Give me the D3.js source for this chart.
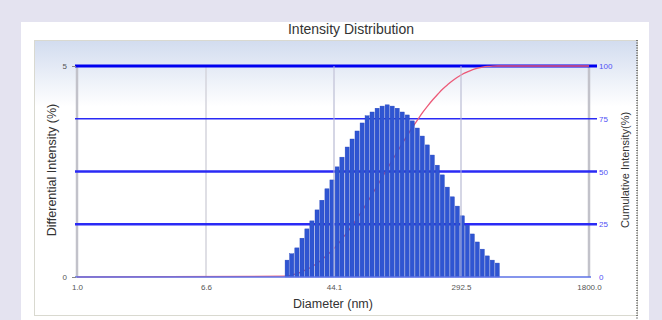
<!DOCTYPE html>
<html>
<head>
<meta charset="utf-8">
<script src="https://cdn.jsdelivr.net/npm/d3@7"></script>
<style>
    body { margin:0; background:#e4e3f0; }
    svg { display:block; font-family:"Liberation Sans", Arial, sans-serif; }
    .tick line { stroke:#888; }
    .domain { display:none; }
</style>
</head>
<body>
<svg id="chart" width="662" height="320"></svg>
<script>
const xTicks = [1.0, 6.6, 44.1, 292.5, 1800.0];
const leftTicks = [0, 5];
const rightTicks = [0, 25, 50, 75, 100];

// bin centres (nm)
const diameters = [22.1, 23.7, 25.6, 27.6, 29.7, 32.0, 34.5, 37.1, 40.0, 43.1,
    46.5, 50.0, 54.0, 58.1, 62.6, 67.5, 72.7, 78.3, 84.4, 90.9,
    98.0, 105.6, 113.8, 122.6, 132.2, 142.4, 153.5, 165.3, 178.2, 192.0,
    206.9, 222.8, 240.1, 258.8, 278.8, 300.0, 322.1, 345.7, 371.0, 398.2,
    427.5, 458.8, 492.5];

// differential intensity (%)
const intensity = [0.40, 0.55, 0.69, 0.92, 1.14, 1.33, 1.59, 1.82, 2.09, 2.30,
    2.61, 2.84, 3.08, 3.27, 3.46, 3.65, 3.82, 3.91, 4.00, 4.05,
    4.08, 4.05, 4.00, 3.91, 3.84, 3.70, 3.53, 3.34, 3.13, 2.89,
    2.65, 2.42, 2.13, 1.90, 1.68, 1.45, 1.23, 1.02, 0.83, 0.66,
    0.50, 0.40, 0.33];

// cumulative intensity (%)
const cumulative = [0.4, 1.0, 1.6, 2.6, 3.7, 5.0, 6.6, 8.4, 10.5, 12.8,
    15.4, 18.3, 21.4, 24.6, 28.1, 31.7, 35.6, 39.5, 43.5, 47.5,
    51.6, 55.6, 59.6, 63.6, 67.4, 71.1, 74.6, 78.0, 81.1, 84.0,
    86.6, 89.1, 91.2, 93.1, 94.8, 96.2, 97.3, 98.3, 99.0, 99.5,
    99.8, 99.95, 100];

const svg = d3.select("#chart");
const plot = {left:77, right:589, top:66, bottom:277};

const xScale = d3.scaleLog()
    .domain(xTicks)
    .range([77, 206, 334, 461, 589]);
const yLeft = d3.scaleLinear().domain([0,5]).range([plot.bottom, plot.top]);
const yRight = d3.scaleLinear().domain([0,100]).range([plot.bottom, plot.top]);

// panel + framed chart background
const defs = svg.append("defs");
const grad = defs.append("linearGradient")
    .attr("id","bg").attr("x1",0).attr("y1",0).attr("x2",0).attr("y2",1);
grad.append("stop").attr("offset","0%").attr("stop-color","#d2dcef");
grad.append("stop").attr("offset","24%").attr("stop-color","#ffffff");
grad.append("stop").attr("offset","100%").attr("stop-color","#ffffff");

svg.append("rect")
    .attr("x",21).attr("y",22).attr("width",628).attr("height",310)
    .attr("fill","#fff");
svg.append("rect")
    .attr("x",34.5).attr("y",40.5).attr("width",603).attr("height",275)
    .attr("fill","url(#bg)")
    .attr("stroke","#d9d9d0");
svg.append("line")
    .attr("x1",637).attr("x2",637).attr("y1",40).attr("y2",320)
    .attr("stroke","#555").attr("stroke-width",1.5)
    .attr("stroke-dasharray","1,1.5");

svg.append("text")
    .attr("x",351).attr("y",34)
    .attr("text-anchor","middle")
    .attr("font-size",14)
    .attr("fill","#333")
    .text("Intensity Distribution");

// vertical grid
svg.append("g").selectAll("line")
    .data(xTicks)
    .enter().append("line")
    .attr("x1",d=>xScale(d)).attr("x2",d=>xScale(d))
    .attr("y1",plot.top).attr("y2",plot.bottom)
    .attr("stroke",(d,i)=> (i==0 || i==xTicks.length-1) ? "#c2c2ca" : "#d4d4dc")
    .attr("stroke-width",(d,i)=> (i==0 || i==xTicks.length-1) ? 2.5 : 1.5);

// horizontal grid
const gridWidth = {25:2.5, 50:2.5, 75:1.6, 100:3};
svg.append("g").selectAll("line")
    .data(rightTicks.filter(d=>d>0))
    .enter().append("line")
    .attr("x1",plot.left-2).attr("x2",plot.right+8)
    .attr("y1",d=>yRight(d)).attr("y2",d=>yRight(d))
    .attr("stroke",d=> d==100 ? "#0000f0" : "#2a2af5")
    .attr("stroke-width",d=>gridWidth[d]);

// cumulative curve
const cumData = [[xTicks[0],0]]
    .concat(diameters.map((d,i)=>[d,cumulative[i]]))
    .concat([[xTicks[xTicks.length-1],100]]);
const lineData = d3.line()
    .curve(d3.curveMonotoneX)
    .x(d=>xScale(d[0]))
    .y(d=>yRight(d[1]));
svg.append("path")
    .attr("d",lineData(cumData))
    .attr("fill","none")
    .attr("stroke","#ec5a78")
    .attr("stroke-width",1.3);

// bars
function binWidth(i){
    if (i < diameters.length-1) return xScale(diameters[i+1]) - xScale(diameters[i]);
    return xScale(diameters[i]) - xScale(diameters[i-1]);
}
svg.append("g").selectAll("rect")
    .data(intensity)
    .enter().append("rect")
    .attr("x",(d,i)=> xScale(diameters[i]) - binWidth(i)/2)
    .attr("width",(d,i)=> binWidth(i) - 0.9)
    .attr("y",d=>yLeft(d))
    .attr("height",d=>plot.bottom - yLeft(d))
    .attr("fill","#2f55d2")
    .attr("stroke","#2545bd")
    .attr("stroke-width",0.4);

// grid ghosting over bars
svg.append("g").selectAll("line")
    .data(xTicks.slice(2,4))
    .enter().append("line")
    .attr("x1",d=>xScale(d)).attr("x2",d=>xScale(d))
    .attr("y1",plot.top).attr("y2",plot.bottom)
    .attr("stroke","#c8cce6")
    .attr("stroke-width",1.2)
    .attr("opacity",0.7);

// zero line
svg.append("line")
    .attr("x1",plot.left-2).attr("x2",plot.right+2)
    .attr("y1",plot.bottom).attr("y2",plot.bottom)
    .attr("stroke","#5d72e6")
    .attr("stroke-width",1.3);

// axes
const xAxis = d3.axisBottom(xScale)
    .tickValues(xTicks)
    .tickFormat(d3.format(".1f"))
    .tickSize(0)
    .tickPadding(7);
svg.append("g")
    .attr("transform","translate(0,"+plot.bottom+")")
    .call(xAxis)
    .selectAll("text")
    .attr("font-size",8)
    .attr("fill","#555");

const yAxisLeft = d3.axisLeft(yLeft)
    .tickValues(leftTicks)
    .tickFormat(d3.format("d"))
    .tickSize(4)
    .tickPadding(5);
svg.append("g")
    .attr("transform","translate("+(plot.left-1)+",0)")
    .call(yAxisLeft)
    .selectAll("text")
    .attr("font-size",8)
    .attr("fill","#555");

const yAxisRight = d3.axisRight(yRight)
    .tickValues(rightTicks)
    .tickSize(0)
    .tickPadding(10);
const rAxis = svg.append("g")
    .attr("transform","translate("+plot.right+",0)")
    .call(yAxisRight);
rAxis.selectAll("text")
    .attr("font-size",8)
    .attr("fill","#5050f5");

// axis titles
svg.append("text")
    .attr("x",333).attr("y",308)
    .attr("text-anchor","middle")
    .attr("font-size",12.5)
    .attr("fill","#333")
    .text("Diameter (nm)");

svg.append("text")
    .attr("transform","translate(56,170) rotate(-90)")
    .attr("text-anchor","middle")
    .attr("font-size",12.5)
    .attr("fill","#333")
    .text("Differential Intensity (%)");

svg.append("text")
    .attr("transform","translate(629,170) rotate(-90)")
    .attr("text-anchor","middle")
    .attr("font-size",11)
    .attr("fill","#333")
    .text("Cumulative Intensity(%)");
</script>
</body>
</html>
